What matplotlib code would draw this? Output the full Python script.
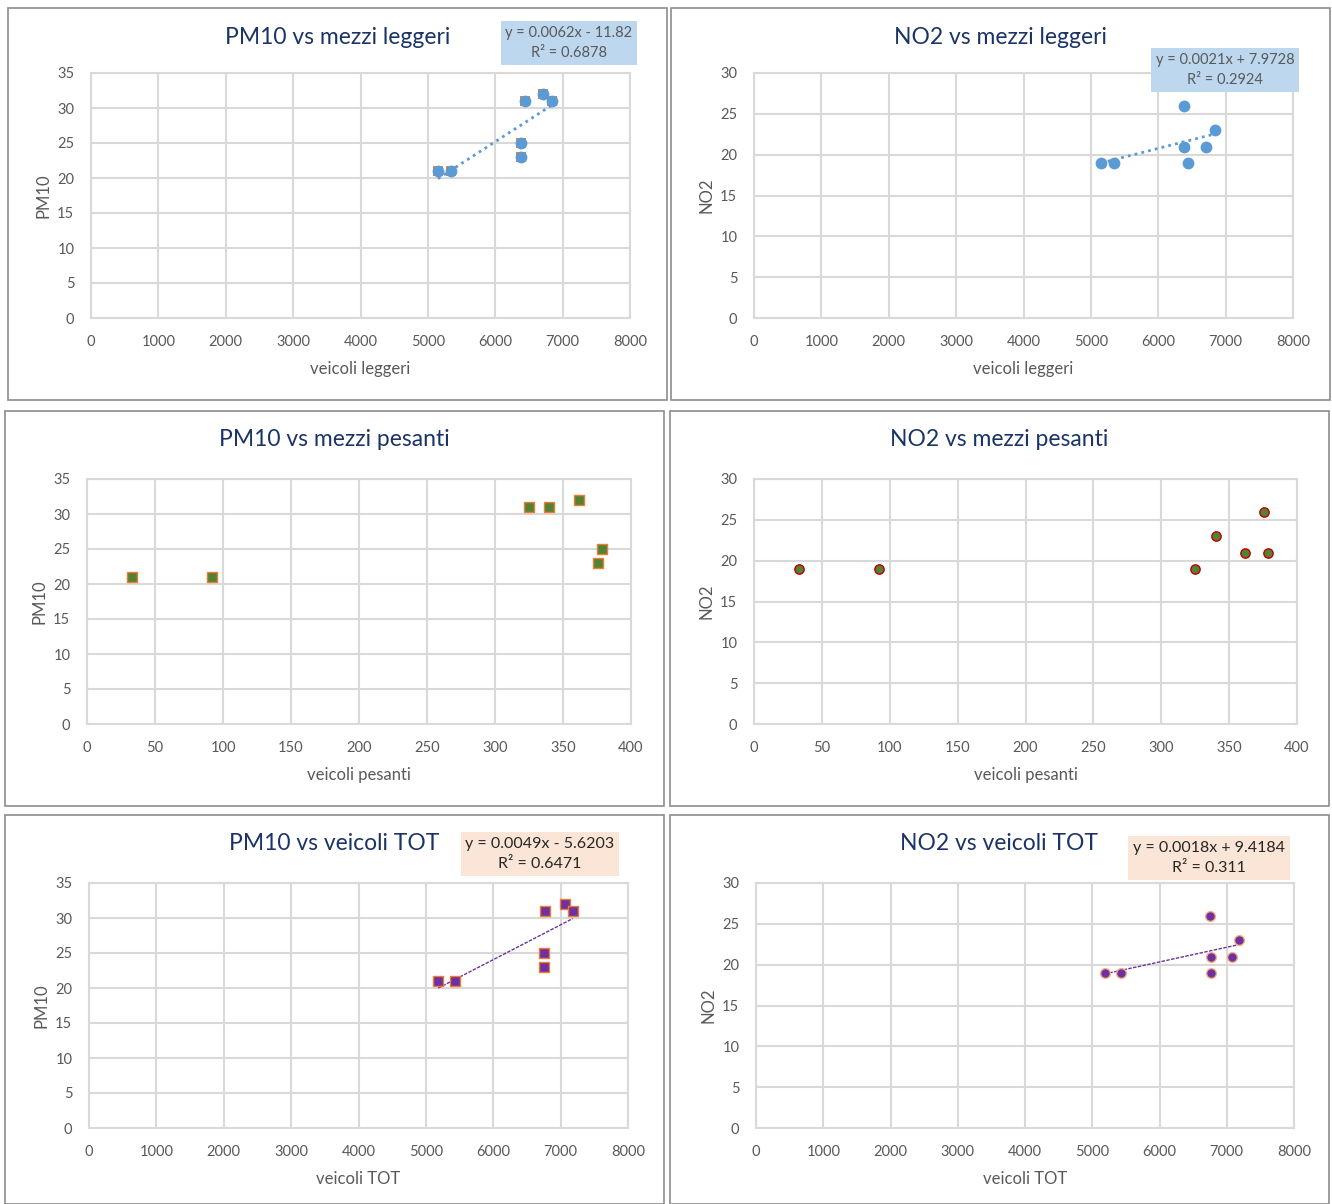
import numpy as np
import matplotlib
matplotlib.use("Agg")
import matplotlib.pyplot as plt
from matplotlib.patches import Rectangle

plt.rcParams['font.family'] = ['Lato', 'DejaVu Sans']

# data (one entry per day)
leggeri = [5150, 5340, 6380, 6380, 6440, 6710, 6840]
pesanti = [33, 92, 376, 379, 325, 362, 340]
pm10 = [21, 21, 23, 25, 31, 32, 31]
no2 = [19, 19, 26, 21, 19, 21, 23]
totali = [l + p for l, p in zip(leggeri, pesanti)]

W, H = 1332, 1204
GRID = '#D9D9D9'
TXT = '#595959'
TITLE = '#1B3467'

fig = plt.figure(figsize=(W / 100, H / 100), dpi=100)


def rect(x0, y0, x1, y1):
    return [x0 / W, 1 - y1 / H, (x1 - x0) / W, (y1 - y0) / H]


def border(x0, y0, x1, y1):
    fig.patches.append(Rectangle((x0 / W, 1 - y1 / H), (x1 - x0) / W, (y1 - y0) / H,
                                 transform=fig.transFigure, fill=False,
                                 edgecolor='#8C8C8C', lw=1.2))


def panel(box, area, title, xlab, ylab, xs, ys, xmax, xstep, ymax, markers,
          trend=None, eq=None):
    border(*box)
    ax = fig.add_axes(rect(*area))
    for m in markers:
        ax.scatter(xs, ys, zorder=3, clip_on=False, **m)
    if trend is not None:
        k, q = np.polyfit(xs, ys, 1)
        xx = np.array([min(xs), max(xs)])
        ax.plot(xx, k * xx + q, zorder=2, **trend)
    ax.set_xlim(0, xmax)
    ax.set_ylim(0, ymax)
    ax.set_xticks(np.arange(0, xmax + 1, xstep))
    ax.set_yticks(np.arange(0, ymax + 1, 5))
    ax.grid(True, color=GRID, lw=1.5)
    ax.set_axisbelow(True)
    for s in ax.spines.values():
        s.set_color(GRID)
        s.set_linewidth(1.5)
    ax.tick_params(length=0, labelsize=10.5, labelcolor=TXT, pad=12)
    ax.set_xlabel(xlab, fontsize=12, color=TXT, labelpad=9)
    ax.set_ylabel(ylab, fontsize=12, color=TXT, labelpad=4)
    cx = (box[0] + box[2]) / 2
    fig.text(cx / W, 1 - (box[1] + 29) / H, title, ha='center', va='center',
             fontsize=16.5, color=TITLE)
    if eq is not None:
        text, (ex, ey), fc, fs, col = eq
        fig.text(ex / W, 1 - ey / H, text, ha='center', va='center',
                 fontsize=fs, color=col, linespacing=1.6,
                 bbox=dict(boxstyle='square,pad=0.3', fc=fc, ec='none'))
    return ax


blue_line = dict(color='#5B9BD5', lw=2, linestyle=(0, (1, 1.5)))
purple_line = dict(color='#7030A0', lw=1, linestyle=(0, (2.5, 1)))

# row 1
panel((8, 8, 667, 400), (91, 73, 630, 318), 'PM10 vs mezzi leggeri',
      'veicoli leggeri', 'PM10', leggeri, pm10, 8000, 1000, 35,
      [dict(marker='s', s=45, c='#ED7D31', linewidths=0),
       dict(marker='o', s=72, c='#5B9BD5', linewidths=0)],
      trend=blue_line,
      eq=('y = 0.0062x - 11.82\nR² = 0.6878', (569, 43), '#BDD7EE', 10.5, TXT))
panel((671, 8, 1330, 400), (754, 73, 1293, 318), 'NO2 vs mezzi leggeri',
      'veicoli leggeri', 'NO2', leggeri, no2, 8000, 1000, 30,
      [dict(marker='o', s=72, c='#5B9BD5', linewidths=0)],
      trend=blue_line,
      eq=('y = 0.0021x + 7.9728\nR² = 0.2924', (1225, 70), '#BDD7EE', 10.5, TXT))

# row 2
panel((5, 411, 664, 806), (87, 479, 631, 724), 'PM10 vs mezzi pesanti',
      'veicoli pesanti', 'PM10', pesanti, pm10, 400, 50, 35,
      [dict(marker='s', s=45, c='#548235', edgecolors='#ED7D31', linewidths=1)])
panel((670, 411, 1329, 806), (754, 479, 1297, 724), 'NO2 vs mezzi pesanti',
      'veicoli pesanti', 'NO2', pesanti, no2, 400, 50, 30,
      [dict(marker='o', s=45, c='#548235', edgecolors='#C00000', linewidths=1)])

# row 3
panel((5, 815, 664, 1204), (89, 883, 628, 1128), 'PM10 vs veicoli TOT',
      'veicoli TOT', 'PM10', totali, pm10, 8000, 1000, 35,
      [dict(marker='s', s=45, c='#7030A0', edgecolors='#ED7D31', linewidths=1)],
      trend=purple_line,
      eq=('y = 0.0049x - 5.6203\nR² = 0.6471', (540, 854), '#FBE5D6', 11.5, '#262626'))
panel((670, 815, 1329, 1204), (756, 883, 1294, 1128), 'NO2 vs veicoli TOT',
      'veicoli TOT', 'NO2', totali, no2, 8000, 1000, 30,
      [dict(marker='o', s=50, c='#7030A0', edgecolors='#F4B183', linewidths=1)],
      trend=purple_line,
      eq=('y = 0.0018x + 9.4184\nR² = 0.311', (1209, 858), '#FBE5D6', 11.5, '#262626'))

fig.savefig('out.png', dpi=100)
